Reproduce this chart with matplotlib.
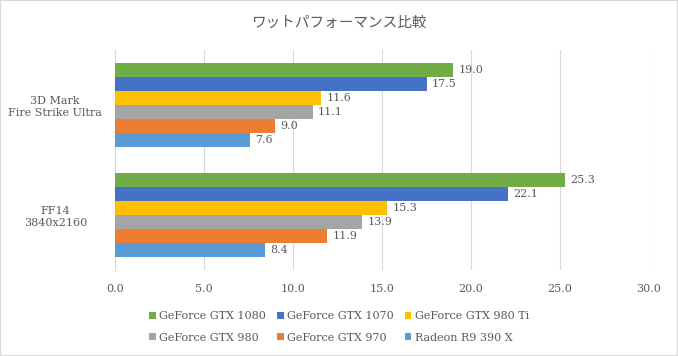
import numpy as np
import matplotlib.pyplot as plt

categories = ['3D Mark\nFire Strike Ultra', 'FF14\n3840x2160']
series = ['GeForce GTX 1080', 'GeForce GTX 1070', 'GeForce GTX 980 Ti',
          'GeForce GTX 980', 'GeForce GTX 970', 'Radeon R9 390 X']
values = {
    'GeForce GTX 1080': [19.0, 25.3],
    'GeForce GTX 1070': [17.5, 22.1],
    'GeForce GTX 980 Ti': [11.6, 15.3],
    'GeForce GTX 980': [11.1, 13.9],
    'GeForce GTX 970': [9.0, 11.9],
    'Radeon R9 390 X': [7.6, 8.4],
}
colors = ['#70AD47', '#4472C4', '#FFC000', '#A5A5A5', '#ED7D31', '#5B9BD5']
xticks = [0, 5, 10, 15, 20, 25, 30]

txt = '#595959'
serif = ['DejaVu Serif']
fs = 8

fig = plt.figure(figsize=(6.78, 3.56), dpi=100)
ax = fig.add_axes([115 / 678, 1 - 270 / 356, 534 / 678, 220 / 356])

h = 14 / 110
y = np.arange(len(categories))
handles = []
for i, name in enumerate(series):
    pos = y + (i - 2.5) * h
    bars = ax.barh(pos, values[name], height=h, color=colors[i], label=name, zorder=3)
    handles.append(bars)
    for b, v in zip(bars, values[name]):
        ax.text(v + 0.3, b.get_y() + h / 2, '{:.1f}'.format(v), va='center', ha='left',
                fontsize=fs, color=txt, family=serif)

ax.set_ylim(1.5, -0.5)
ax.set_xlim(0, 30)
ax.set_xticks(xticks)
ax.set_xticklabels(['{:.1f}'.format(t) for t in xticks], family=serif, fontsize=fs, color=txt)
ax.set_yticks(y)
ax.set_yticklabels(categories, family=serif, fontsize=fs, color=txt, ha='center')
ax.tick_params(axis='y', length=0, pad=43)
ax.tick_params(axis='x', length=0, pad=10)
ax.grid(axis='x', color='#D9D9D9', linewidth=0.8, zorder=0)
for s in ['top', 'right', 'bottom']:
    ax.spines[s].set_visible(False)
ax.spines['left'].set_color('#D9D9D9')

fig.text(0.5, 1 - 23 / 356, 'ワットパフォーマンス比較', ha='center', va='center',
         fontsize=10.5, color=txt, family=['Noto Sans CJK JP', 'DejaVu Sans'])

# legend fills by column, so reorder to get row-wise order
order = [0, 3, 1, 4, 2, 5]
leg = fig.legend([handles[k] for k in order], [series[k] for k in order],
                 loc='center', bbox_to_anchor=(0.5, 1 - 327 / 356), ncol=3,
                 frameon=False, handlelength=0.6, handleheight=0.6, handletextpad=0.3,
                 columnspacing=1.0, labelspacing=1.0,
                 prop={'family': serif, 'size': fs})
for t in leg.get_texts():
    t.set_color(txt)

fig.patches.append(plt.Rectangle((0, 0), 1, 1, transform=fig.transFigure, fill=False,
                                 edgecolor='#D9D9D9', linewidth=1.5))
fig.savefig('out.png', dpi=100)
